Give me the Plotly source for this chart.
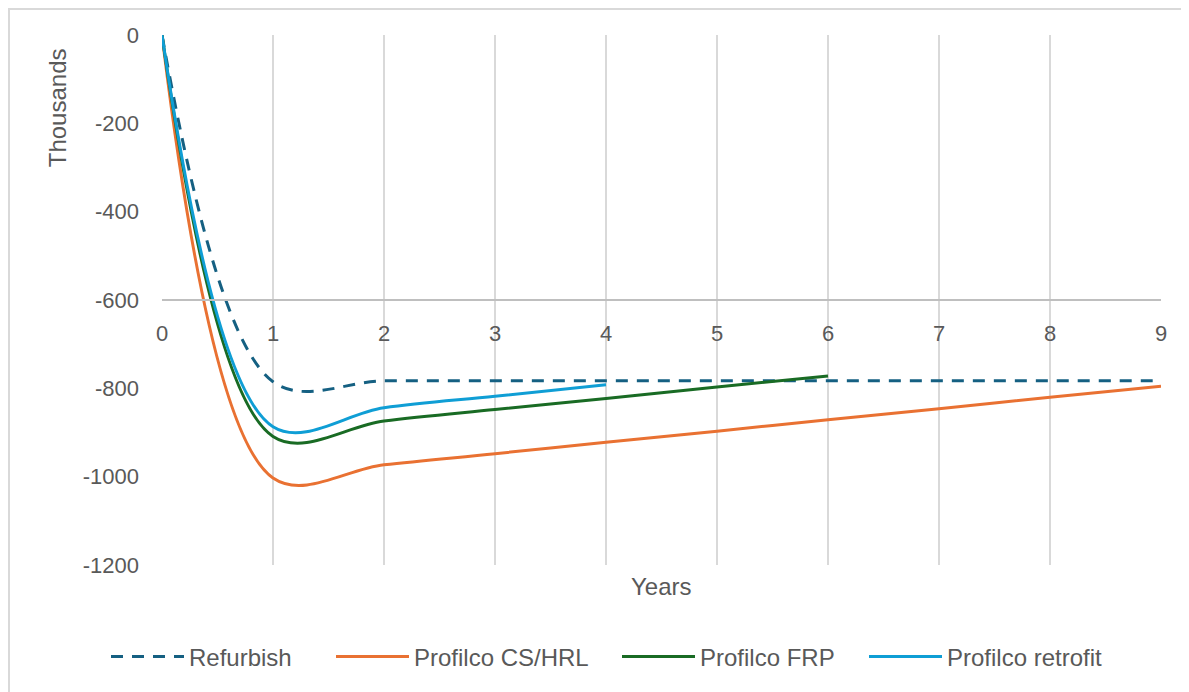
import plotly.graph_objects as go

years = [0, 1, 2, 3, 4, 5, 6, 7, 8, 9]
refurbish = [0, -785, -783, -783, -783, -783, -783, -783, -783, -783]
cs_hrl = [0, -1003, -973, -948, -922, -897, -871, -846, -820, -795]
frp = [0, -909, -874, -848, -823, -797, -772]
retrofit = [0, -887, -844, -818, -792]

y_ticks = [0, -200, -400, -600, -800, -1000, -1200]
y_tick_text = ["0", "-200", "-400", "-600", "-800", "-1000", "-1200"]
x_ticks = list(range(0, 10))

FONT = "Liberation Sans"
GRAY = "#595959"
W, H = 1181, 684
L, R, T, B = 154, 28, 27, 127

fig = go.Figure()
series = [
    ("Refurbish", years, refurbish, "#156082", "12px,9px", "legend", 104),
    ("Profilco CS/HRL", years[:len(cs_hrl)], cs_hrl, "#E97132", "solid", "legend2", 329),
    ("Profilco FRP", years[:len(frp)], frp, "#196B24", "solid", "legend3", 615),
    ("Profilco retrofit", years[:len(retrofit)], retrofit, "#0F9ED5", "solid", "legend4", 862),
]
legends = {}
for name, xs, ys, col, dash, leg, lx in series:
    fig.add_trace(go.Scatter(
        x=xs, y=ys, name=name, mode="lines", legend=leg,
        line=dict(color=col, width=3, dash=dash, shape="spline", smoothing=1.0),
    ))
    legends[leg] = dict(
        orientation="h", xref="container", yref="container",
        x=(lx - 6) / W, xanchor="left", y=1 - 649 / H, yanchor="middle",
        font=dict(size=24, color=GRAY, family=FONT),
        itemwidth=73, bgcolor="rgba(0,0,0,0)",
    )

fig.update_layout(
    width=W, height=H,
    margin=dict(l=L, r=R, t=T, b=B),
    paper_bgcolor="white", plot_bgcolor="white",
    font=dict(family=FONT, color=GRAY, size=22),
    showlegend=True,
    xaxis=dict(
        range=[0, 9], tickvals=x_ticks, anchor="free", position=0.5,
        showgrid=True, gridcolor="#d9d9d9", gridwidth=2,
        showline=True, linecolor="#bfbfbf", linewidth=2,
        zeroline=False, ticks="", ticklabelstandoff=14,
        tickfont=dict(size=22, color=GRAY, family=FONT),
    ),
    yaxis=dict(
        range=[-1200, 0], tickvals=y_ticks, ticktext=y_tick_text,
        showgrid=False, zeroline=False,
        showline=False, ticks="", ticklabelstandoff=22,
        tickfont=dict(size=22, color=GRAY, family=FONT),
    ),
    annotations=[
        dict(text="Years", xref="paper", yref="paper", x=0.5, y=-0.0415,
             xanchor="center", yanchor="middle", showarrow=False,
             font=dict(size=24, color=GRAY, family=FONT)),
        dict(text="Thousands", xref="paper", yref="paper", x=-0.105, y=0.862,
             xanchor="center", yanchor="middle", showarrow=False, textangle=-90,
             font=dict(size=24, color=GRAY, family=FONT)),
    ],
    shapes=[
        dict(type="rect", xref="paper", yref="paper",
             x0=(1 - L) / 999, x1=1.2, y0=-0.4, y1=(H - B - 1) / 530 - (H - B - T - 530) / 530,
             line=dict(color="#d9d9d9", width=2), layer="below"),
    ],
    **legends,
)

fig.write_html("out.html")
